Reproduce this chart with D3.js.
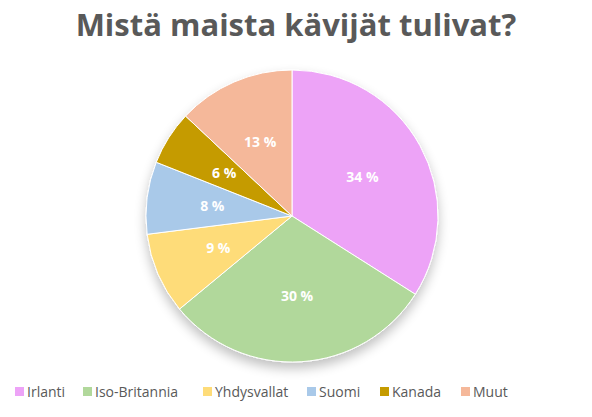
<!DOCTYPE html>
<html><head><meta charset="utf-8">
<script src="https://cdn.jsdelivr.net/npm/d3@7"></script>
<style>body{margin:0;background:#fff}</style>
</head><body>
<svg id="chart" width="592" height="417"></svg>
<script>
var categories = ['Irlanti', 'Iso-Britannia', 'Yhdysvallat', 'Suomi', 'Kanada', 'Muut'];
var values = [34, 30, 9, 8, 6, 13];
var colors = ['#EDA3F7', '#B1D89B', '#FEDC79', '#A9C9E9', '#C59B00', '#F5B89A'];
var legendX = [15, 83, 203, 307, 380, 461];

var svg = d3.select('#chart');
var cx = 292, cy = 216, r = 146;

svg.append('text')
    .attr('x', 296).attr('y', 36)
    .attr('text-anchor', 'middle')
    .attr('font-family', 'Open Sans, sans-serif')
    .attr('font-weight', 'bold')
    .attr('font-size', '31px')
    .attr('fill', '#595959')
    .text('Mistä maista kävijät tulivat?');

var defs = svg.append('defs');
var f = defs.append('filter').attr('id', 'sh').attr('x', '-20%').attr('y', '-20%').attr('width', '140%').attr('height', '150%');
f.append('feGaussianBlur').attr('in', 'SourceAlpha').attr('stdDeviation', 6);
f.append('feOffset').attr('dy', 6).attr('result', 'b');
f.append('feComponentTransfer').append('feFuncA').attr('type', 'linear').attr('slope', 0.25);
var m = f.append('feMerge');
m.append('feMergeNode');
m.append('feMergeNode').attr('in', 'SourceGraphic');

var pie = d3.pie().sort(null).value(function (d) { return d; });
var arc = d3.arc().innerRadius(0).outerRadius(r);
var labelArc = d3.arc().innerRadius(r * 0.55).outerRadius(r * 0.55);

var g = svg.append('g').attr('transform', 'translate(' + cx + ',' + cy + ')');
var slices = pie(values);

g.append('g').attr('filter', 'url(#sh)')
    .selectAll('path').data(slices).enter().append('path')
    .attr('d', arc)
    .attr('fill', function (d, i) { return colors[i]; })
    .attr('stroke', '#fff').attr('stroke-width', 1);

g.selectAll('text.lbl').data(slices).enter().append('text')
    .attr('class', 'lbl')
    .attr('transform', function (d) { return 'translate(' + labelArc.centroid(d) + ')'; })
    .attr('text-anchor', 'middle').attr('dy', '0.35em')
    .attr('font-family', 'Open Sans, sans-serif')
    .attr('font-weight', 'bold').attr('font-size', '14px')
    .attr('fill', '#ffffff')
    .text(function (d) { return d.data + ' %'; });

var lg = svg.append('g').selectAll('g').data(categories).enter().append('g')
    .attr('transform', function (d, i) { return 'translate(' + legendX[i] + ',392)'; });
lg.append('rect').attr('x', 0).attr('y', -5).attr('width', 9).attr('height', 9)
    .attr('fill', function (d, i) { return colors[i]; });
lg.append('text').attr('x', 12).attr('dy', '0.35em')
    .attr('font-family', 'Open Sans, sans-serif').attr('font-size', '14px')
    .attr('fill', '#595959')
    .text(function (d) { return d; });
</script>
</body></html>
